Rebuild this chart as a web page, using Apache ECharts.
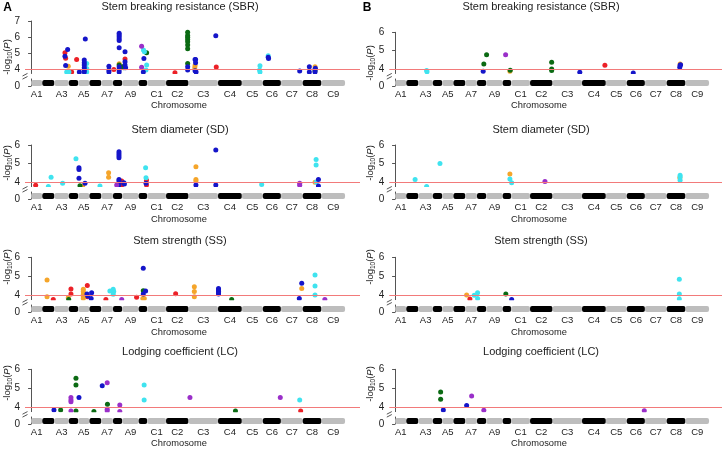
<!DOCTYPE html>
<html><head><meta charset="utf-8">
<script src="https://cdn.jsdelivr.net/npm/echarts@6/dist/echarts.min.js"></script>
<style>html,body{margin:0;padding:0;background:#fff}#c{width:722px;height:450px}</style>
</head><body><div id="c"></div>
<script>
// ---------- data ----------
const chromNames   = ['A1','A2','A3','A4','A5','A6','A7','A8','A9','A10','C1','C2','C3','C4','C5','C6','C7','C8','C9'];
const chromLengths = [23.0,24.8,29.8,19.2,23.1,24.4,24.0,18.9,33.9,17.4,38.8,46.2,60.6,48.9,43.1,37.2,44.8,38.5,48.5];
const labeledChroms = ['A1','A3','A5','A7','A9','C1','C2','C3','C4','C5','C6','C7','C8','C9'];
const envColors = ['#ec2027','#f5a52a','#0b6a13','#3fe3ef','#1515c9','#9a2fc9'];
const traitTitles = ['Stem breaking resistance (SBR)','Stem diameter (SD)','Stem strength (SS)','Lodging coefficient (LC)'];
const panelLetters = ['A','B'];
const threshold = 4;
const yTicksLeft  = [[4,5,6,7],[4,5,6],[4,5,6],[4,5,6]];
const yTicksRight = [[4,5,6],[4,5,6],[4,5,6],[4,5,6]];
const bandHeight = 0.85;

// rows: [environment, chromosome, position (Mb), -log10(P)]
const R=0,O=1,G=2,C=3,B=4,P=5;
const sbrA = [
 [R,'A3',21.8,5.04],[R,'A3',23.2,4.70],[R,'A4',5.7,3.85],[R,'A4',16.0,4.62],[R,'A8',1.8,4.00],[R,'A9',5.8,4.64],[R,'C2',18.3,3.80],[R,'C3',57.0,4.15],
 [O,'A3',28.6,4.20],[O,'A8',12.7,4.35],[O,'C3',13.4,4.25],[O,'C3',12.8,4.10],[O,'C8',25.3,4.17],
 [G,'A8',12.7,4.28],[G,'A9',0.8,4.17],[G,'A9',3.5,4.10],[G,'A10',16.3,5.04],[G,'C2',44.4,6.30],[G,'C2',44.4,6.11],[G,'C2',44.4,5.99],[G,'C2',44.4,5.86],[G,'C2',44.4,5.71],[G,'C2',44.4,5.51],[G,'C2',44.4,5.28],[G,'C2',44.4,4.37],[G,'C8',25.3,3.90],
 [C,'A3',25.3,3.85],[C,'A4',0.2,3.85],[C,'A5',17.5,4.37],[C,'A5',17.5,4.06],[C,'A5',17.5,3.85],[C,'A10',9.8,5.20],[C,'A10',11.8,5.10],[C,'A10',16.3,4.27],[C,'A10',15.0,3.96],[C,'C5',37.3,4.23],[C,'C5',36.5,3.96],[C,'C5',37.3,3.85],[C,'C6',11.1,4.85],
 [B,'A3',27.3,5.24],[B,'A3',21.8,4.82],[B,'A3',23.2,4.25],[B,'A5',2.3,3.85],[B,'A5',12.5,4.58],[B,'A5',12.5,4.41],[B,'A5',12.5,4.27],[B,'A5',12.5,4.10],[B,'A5',12.5,3.96],[B,'A5',12.5,3.85],[B,'A5',14.6,5.88],
 [B,'A7',15.6,4.20],[B,'A7',15.6,3.96],[B,'A7',15.6,3.85],[B,'A8',12.7,6.24],[B,'A8',12.7,6.14],[B,'A8',12.7,6.03],[B,'A8',12.7,5.90],[B,'A8',12.7,5.80],[B,'A8',12.7,5.35],[B,'A8',12.7,4.17],[B,'A8',12.7,4.00],[B,'A8',12.7,3.85],
 [B,'A9',5.8,5.10],[B,'A9',5.8,4.48],[B,'A9',5.8,4.27],[B,'A9',7.0,4.10],[B,'A10',10.7,4.68],[B,'A10',9.5,3.85],[B,'C2',44.4,4.17],[B,'C2',44.4,3.96],
 [B,'C3',13.4,4.62],[B,'C3',14.5,4.62],[B,'C3',14.5,4.41],[B,'C3',13.4,3.92],[B,'C3',15.5,3.85],[B,'C3',56.0,6.09],[B,'C6',11.1,4.75],[B,'C6',11.8,4.68],[B,'C7',38.6,3.90],
 [B,'C8',13.6,4.17],[B,'C8',13.6,3.85],[B,'C8',25.3,4.00],[B,'C8',25.3,3.85],[B,'C8',26.0,4.08],
 [P,'A10',6.0,5.43],[P,'A10',6.0,4.14]
];
const sbrB = [
 [R,'A7',9.4,3.74],[R,'C4',47.0,4.20],
 [O,'A10',14.8,3.87],[O,'C8',27.5,4.27],
 [G,'A8',14.0,4.27],[G,'A9',0.8,4.77],[G,'A10',15.5,3.93],[G,'C2',44.4,4.36],[G,'C2',44.4,4.00],[G,'C2',44.4,3.91],
 [C,'A3',17.0,3.91],[C,'A3',17.8,3.84],
 [B,'A8',12.7,3.87],[B,'C3',56.0,3.82],[B,'C6',13.3,3.78],[B,'C8',27.5,4.20],[B,'C8',26.8,4.09],[B,'C8',28.5,4.23],
 [P,'A6',1.5,3.74],[P,'A10',6.0,4.77]
];
const sdA = [
 [R,'A1',9.4,3.82],[R,'A8',17.9,4.05],[R,'A8',17.9,3.84],[R,'A10',16.0,4.10],[R,'A10',16.0,3.84],
 [O,'A5',9.2,3.78],[O,'A7',15.0,4.50],[O,'A7',15.0,4.25],[O,'C3',15.2,4.83],[O,'C3',15.2,4.14],[O,'C3',15.2,4.05],[O,'C8',25.3,3.98],
 [G,'A5',3.7,3.80],
 [C,'A2',18.1,4.25],[C,'A2',12.5,3.75],[C,'A3',17.0,3.93],[C,'A4',14.6,5.26],[C,'A6',21.6,3.78],[C,'A10',14.2,4.77],[C,'A10',15.0,4.23],[C,'C5',40.8,3.87],[C,'C8',27.5,5.22],[C,'C8',27.5,4.92],[C,'C8',28.0,4.00],
 [B,'A5',1.6,4.77],[B,'A5',1.6,4.68],[B,'A5',1.6,4.20],[B,'A5',14.0,3.93],[B,'A8',12.3,5.64],[B,'A8',12.3,5.53],[B,'A8',12.3,5.42],[B,'A8',12.3,5.31],[B,'A8',12.3,4.14],[B,'A8',12.3,4.05],[B,'A8',12.3,3.95],[B,'A8',12.3,3.85],
 [B,'A9',3.5,3.96],[B,'A9',4.5,3.89],[B,'A10',15.0,3.93],[B,'C3',15.2,3.84],[B,'C3',56.0,5.73],[B,'C3',56.0,3.84],[B,'C8',32.3,4.14],[B,'C8',32.3,3.78],
 [P,'A8',7.6,3.84],[P,'C7',38.6,3.93],[P,'C7',38.6,3.82]
];
const sdB = [
 [O,'A10',14.8,4.43],[O,'C8',27.0,4.23],
 [C,'A2',18.1,4.14],[C,'A3',17.0,3.75],[C,'A4',14.6,5.00],[C,'A10',14.8,4.16],[C,'C1',1.0,3.96],[C,'C8',27.5,4.36],[C,'C8',27.5,4.27],[C,'C8',27.5,4.10],
 [P,'C2',30.6,4.02]
];
const ssA = [
 [R,'A2',22.6,3.76],[R,'A4',4.3,4.32],[R,'A4',4.3,4.05],[R,'A5',18.7,4.50],[R,'A5',18.7,3.91],[R,'A5',15.0,4.00],[R,'A7',9.4,3.76],[R,'A9',29.6,3.88],[R,'C2',19.7,4.07],
 [O,'A2',9.8,4.80],[O,'A2',9.8,3.91],[O,'A3',28.6,3.86],[O,'A5',10.5,4.30],[O,'A5',10.5,4.18],[O,'A5',10.5,4.04],[O,'A5',10.5,3.91],[O,'A5',10.5,3.82],[O,'A10',8.5,3.82],[O,'A10',11.5,3.82],
 [O,'C3',11.9,4.44],[O,'C3',11.9,4.18],[O,'C3',11.9,3.91],[O,'C7',42.8,4.35],
 [G,'A3',29.5,3.76],[G,'A10',9.4,4.23],[G,'C4',28.0,3.76],
 [C,'A7',17.6,4.21],[C,'A8',0.4,4.30],[C,'A8',0.4,4.04],[C,'A8',1.5,4.18],[C,'C8',25.3,5.06],[C,'C8',25.3,4.48],[C,'C8',25.3,4.00],
 [B,'A5',18.0,4.05],[B,'A5',19.5,3.95],[B,'A6',4.5,4.12],[B,'A6',3.5,3.82],[B,'A10',9.4,5.42],[B,'A10',9.4,4.05],[B,'A10',14.2,4.21],
 [B,'C4',1.0,4.35],[B,'C4',1.0,4.28],[B,'C4',1.0,4.20],[B,'C4',1.0,4.12],[B,'C4',1.0,4.05],[B,'C7',42.8,4.62],[B,'C7',37.8,3.82],
 [P,'A8',17.9,3.76],[P,'C9',7.0,3.76]
];
const ssB = [
 [R,'A7',9.4,3.79],
 [O,'A7',2.7,4.00],
 [G,'A10',6.4,4.05],
 [C,'A7',18.3,3.98],[C,'A8',1.2,4.12],[C,'A8',1.2,3.82],[C,'C8',25.9,4.83],[C,'C8',25.9,4.05],[C,'C8',25.9,3.79],
 [B,'C1',1.0,3.76]
];
const lcA = [
 [R,'C7',40.6,3.79],
 [G,'A3',12.9,3.84],[G,'A4',14.6,5.52],[G,'A4',14.6,5.17],[G,'A4',14.6,3.79],[G,'A6',9.2,3.76],[G,'A7',12.6,4.14],[G,'C4',35.8,3.79],
 [C,'A10',11.2,5.17],[C,'A10',11.2,4.37],[C,'C7',38.6,4.37],
 [B,'A2',24.0,3.84],[B,'A5',1.6,4.51],[B,'A7',1.9,5.13],
 [P,'A4',4.3,4.50],[P,'A4',4.3,4.37],[P,'A4',4.3,4.28],[P,'A4',4.3,3.79],[P,'A7',12.1,5.29],[P,'A7',12.1,3.88],[P,'A7',12.1,3.79],[P,'A8',14.0,4.10],[P,'A8',14.0,3.76],[P,'C3',2.9,4.50],[P,'C6',35.9,4.50]
];
const lcB = [
 [G,'A4',16.0,4.80],[G,'A4',16.0,4.41],
 [B,'A5',2.3,3.84],[B,'A7',2.7,4.08],
 [P,'A7',13.0,4.58],[P,'A8',14.0,3.83],[P,'C6',35.9,3.80]
];
const panelData = [[sbrA,sbrB],[sdA,sdB],[ssA,ssB],[lcA,lcB]];

// ---------- derived ----------
const chromStart = [];
{ let acc = 0; chromLengths.forEach(l => { chromStart.push(acc); acc += l; }); }
const chromIdx = {}; chromNames.forEach((n,i) => chromIdx[n] = i);
const gpos = (c,p) => chromStart[chromIdx[c]] + p;
const labelCenters = labeledChroms.map(n => chromStart[chromIdx[n]] + chromLengths[chromIdx[n]]/2);
const bandRows = chromNames.map((n,i) => [chromStart[i], chromStart[i] + chromLengths[i], i]);

// ---------- layout ----------
const FONT = '"Liberation Sans", Arial, sans-serif';
const TXT = '#222';
const AX = '#555';
const cols = [
  {left:25,    width:335,   xMin:-12.5, xMax:675.8, letterX:7.5, titleX:180, ylabX:7,   chrX:179},
  {left:389.3, width:332.7, xMin:-11.9, xMax:671.7, letterX:367, titleX:541, ylabX:370, chrX:539}
];
const rows = [
  {top:[21,32.3],   bottom:73.5,  yMax:[7,6], bandTop:79,  bandBottom:86,  titleY:7,   ylabY:[57,63],   chrY:105},
  {top:[145,145],   bottom:186.6, yMax:[6,6], bandTop:192, bandBottom:199, titleY:130, ylabY:[163,163], chrY:219},
  {top:[257.3,257.3],bottom:299.7,yMax:[6,6], bandTop:305, bandBottom:312, titleY:241, ylabY:[267,267], chrY:332},
  {top:[369.3,369.3],bottom:411.7,yMax:[6,6], bandTop:417, bandBottom:424, titleY:352, ylabY:[383,384], chrY:443}
];
const yMin = 3.75;

const grid = [], xAxis = [], yAxis = [], series = [], graphics = [];
rows.forEach((row, r) => {
  cols.forEach((col, c) => {
    const gTop = grid.length;
    const ticks = (c === 0 ? yTicksLeft : yTicksRight)[r];
    grid.push({left:col.left, top:row.top[c], width:col.width, height:row.bottom - row.top[c], containLabel:false, outerBoundsMode:'none'});
    grid.push({left:col.left, top:row.bandTop, width:col.width, height:row.bandBottom - row.bandTop, containLabel:false, outerBoundsMode:'none'});
    xAxis.push({gridIndex:gTop, type:'value', min:col.xMin, max:col.xMax, show:false});
    xAxis.push({gridIndex:gTop+1, type:'value', min:col.xMin, max:col.xMax,
      axisLine:{show:false}, axisTick:{show:false}, splitLine:{show:false},
      axisLabel:{customValues:labelCenters, margin:3, fontSize:9.5, color:TXT, fontFamily:FONT,
        formatter: v => { let best = 0; labelCenters.forEach((lc,i) => { if (Math.abs(lc - v) < Math.abs(labelCenters[best] - v)) best = i; }); return labeledChroms[best]; }}});
    yAxis.push({gridIndex:gTop, type:'value', min:yMin, max:row.yMax[c], splitLine:{show:false},
      axisLine:{show:true, lineStyle:{color:AX, width:1}},
      axisTick:{show:true, length:3, customValues:ticks, lineStyle:{color:AX}},
      axisLabel:{customValues:ticks, margin:5, fontSize:10, color:TXT, fontFamily:FONT}});
    yAxis.push({gridIndex:gTop+1, type:'value', min:0, max:1, splitLine:{show:false},
      axisLine:{show:true, lineStyle:{color:AX, width:1}},
      axisTick:{show:true, length:3, customValues:[0], lineStyle:{color:AX}},
      axisLabel:{customValues:[0], margin:5, fontSize:10, color:TXT, fontFamily:FONT}});

    // chromosome band
    series.push({type:'custom', xAxisIndex:gTop+1, yAxisIndex:gTop+1, data:bandRows, silent:true, animation:false,
      encode:{x:[0,1], y:2},
      renderItem:(params, api) => {
        const s = api.coord([api.value(0), 0]);
        const e = api.coord([api.value(1), bandHeight]);
        return {type:'rect', shape:{x:s[0], y:e[1], width:e[0]-s[0], height:s[1]-e[1], r:2},
          style:{fill: api.value(2) % 2 ? '#000000' : '#bdbdbd'}};
      }});
    // threshold line
    series.push({type:'scatter', xAxisIndex:gTop, yAxisIndex:gTop, data:[], z:1, silent:true, animation:false,
      markLine:{silent:true, symbol:['none','none'], label:{show:false}, animation:false,
        lineStyle:{color:'#f27a7a', width:1, type:'solid'}, data:[{yAxis:threshold}]}});
    // SNP points by environment
    const rowsData = panelData[r][c];
    envColors.forEach((col2, env) => {
      const pts = rowsData.filter(d => d[0] === env).map(d => [gpos(d[1], d[2]), d[3]]);
      if (!pts.length) return;
      series.push({type:'scatter', xAxisIndex:gTop, yAxisIndex:gTop, data:pts, symbolSize:5, z:3,
        silent:true, animation:false, itemStyle:{color:col2, opacity:1}});
    });

    // mask below the top segment (clip dots at the break)
    graphics.push({type:'rect', z:50, silent:true, shape:{x:col.left+0.6, y:row.bottom+0.5, width:col.width, height:Math.min(4, row.bandTop-row.bottom-1.5)}, style:{fill:'#fff'}});
    // axis break marks
    const ax = col.left;
    [row.bottom + 1.2, row.bandTop - 1.2].forEach(yy => {
      graphics.push({type:'line', z:60, silent:true, shape:{x1:ax-2.5, y1:yy+1.3, x2:ax+2.5, y2:yy-1.3}, style:{stroke:AX, lineWidth:1}});
    });
    // title
    graphics.push({type:'text', z:60, silent:true, x:col.titleX, y:row.titleY,
      style:{text:traitTitles[r], fontSize:11, fontFamily:FONT, fill:TXT, align:'center', verticalAlign:'middle', textAlign:'center', textVerticalAlign:'middle'}});
    // x name
    graphics.push({type:'text', z:60, silent:true, x:col.chrX, y:row.chrY,
      style:{text:'Chromosome', fontSize:9.3, fontFamily:FONT, fill:TXT, align:'center', verticalAlign:'middle', textAlign:'center', textVerticalAlign:'middle'}});
    // y name
    graphics.push({type:'text', z:60, silent:true, x:col.ylabX, y:row.ylabY[c], rotation:Math.PI/2,
      style:{text:'-log{s|10}({i|P})', fontSize:9.5, fontFamily:FONT, fill:TXT, align:'center', verticalAlign:'middle', textAlign:'center', textVerticalAlign:'middle',
        rich:{s:{fontSize:6.5, fontFamily:FONT, fill:TXT, verticalAlign:'bottom', lineHeight:13}, i:{fontSize:9.5, fontStyle:'italic', fontFamily:FONT, fill:TXT}}}});
  });
});
cols.forEach((col, c) => {
  graphics.push({type:'text', z:60, silent:true, x:col.letterX, y:7.5,
    style:{text:panelLetters[c], fontSize:12, fontWeight:'bold', fontFamily:FONT, fill:'#000', align:'center', verticalAlign:'middle', textAlign:'center', textVerticalAlign:'middle'}});
});

const chart = echarts.init(document.getElementById('c'), null, {renderer:'canvas'});
chart.setOption({
  animation:false,
  backgroundColor:'#ffffff',
  grid, xAxis, yAxis, series,
  graphic:{elements:graphics}
});
</script>
</body></html>
